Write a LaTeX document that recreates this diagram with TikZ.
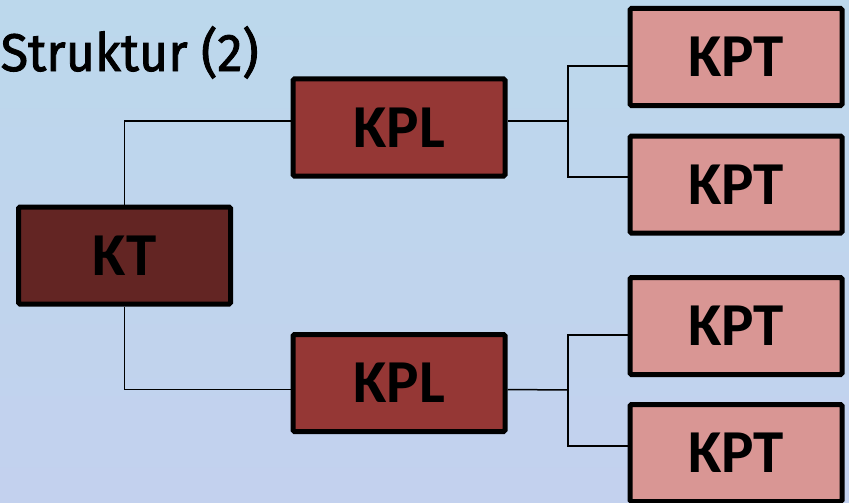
\documentclass[tikz,border=0pt]{standalone}
\usepackage{fontspec}
\setmainfont{Carlito}
\newfontfamily\titlefont{Fira Sans}[FakeBold=1.6,FakeStretch=0.95]
\usetikzlibrary{shapes}

\definecolor{ktred}{HTML}{632523}
\definecolor{kplred}{HTML}{953735}
\definecolor{kptred}{HTML}{D99694}
\definecolor{bgtop}{HTML}{BCD8EC}
\definecolor{bgbot}{HTML}{C3D1EE}

\tikzset{
  unit/.style={draw,rectangle,line width=5pt,rounded corners=1.5pt,minimum width=212pt,minimum height=97pt,inner sep=0pt,font=\fontsize{61}{61}\selectfont\bfseries},
  link/.style={line width=1.5pt}
}

\begin{document}
\begin{tikzpicture}[x=1pt,y=-1pt]
\shade[top color=bgtop,bottom color=bgbot] (0,0) rectangle (849,503);
\useasboundingbox (0,0) rectangle (849,503);
\clip (0,0) rectangle (849,503);

\node[anchor=base west,inner sep=0pt,font=\titlefont\fontsize{53}{53}\selectfont] (TTL) at (0.5,71) {Struktur (2)};

\node[unit,fill=ktred] (KT) at (124.5,255.5) {KT};
\node[unit,fill=kplred] (KPL1) at (399,127.5) {KPL};
\node[unit,fill=kplred] (KPL2) at (399,383) {KPL};
\foreach \n/\y in {1/57,2/184.5,3/326,4/453} {
  \node[unit,fill=kptred] (KPT\n) at (736,\y) {KPT};
}

\coordinate (J1) at (568,121);
\coordinate (J2) at (568,390);

\draw[link] (KT.north) |- ([yshift=6.5pt]KPL1.west);
\draw[link] (KT.south) |- ([yshift=-6.5pt]KPL2.west);
\draw[link] ([yshift=6.5pt]KPL1.east) -- (J1);
\draw[link] ([yshift=-6.5pt]KPL2.east) -- (J2);
\draw[link] ([yshift=-9pt]KPT1.west) -| (J1) |- ([yshift=7.5pt]KPT2.west);
\draw[link] ([yshift=-9pt]KPT3.west) -| (J2) |- ([yshift=7pt]KPT4.west);
\end{tikzpicture}
\end{document}
